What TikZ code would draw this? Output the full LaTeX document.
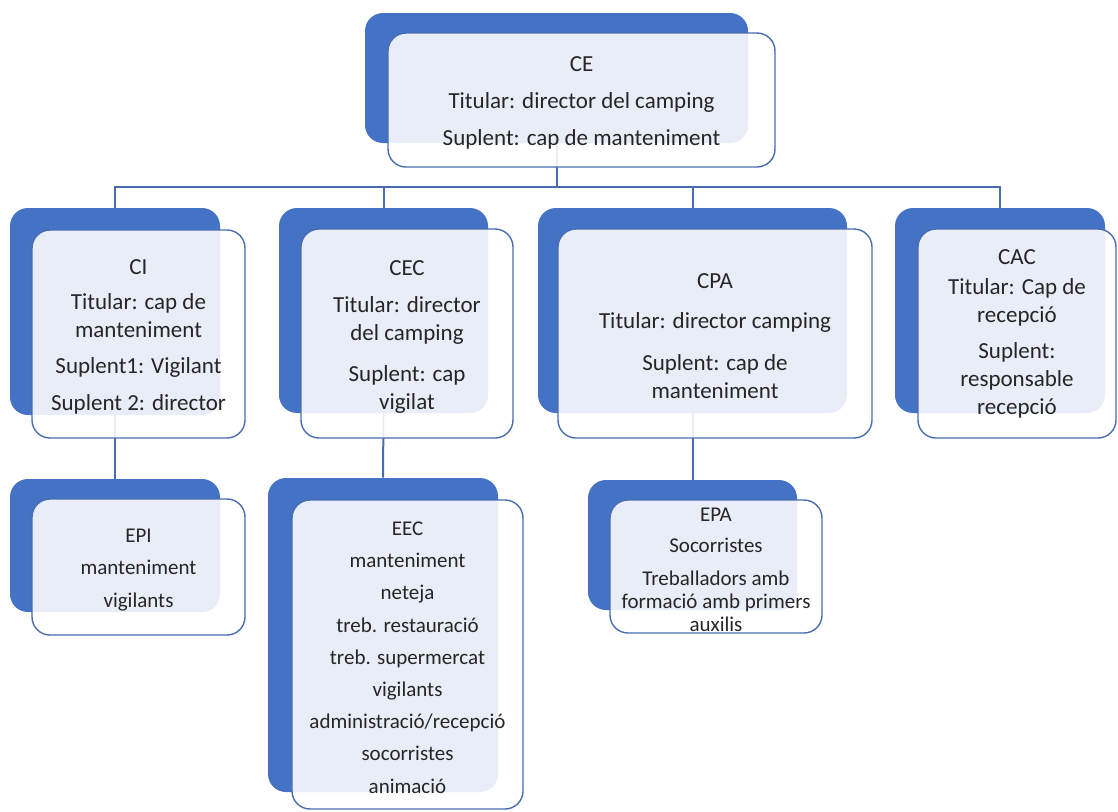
\documentclass[tikz,border=0pt]{standalone}
\usepackage{fontspec}
\setmainfont{Carlito}
\usetikzlibrary{fit}
\definecolor{boxblue}{HTML}{4472C4}
\definecolor{edgeblue}{HTML}{4A6DB0}
\definecolor{textgray}{HTML}{262626}
\tikzset{
  back/.style={fill=boxblue, rounded corners=9pt, inner sep=0pt},
  front/.style={draw=edgeblue, line width=0.7pt, fill=white, fill opacity=0.88,
    rounded corners=9pt, inner sep=0pt},
  link/.style={draw=edgeblue, line width=1pt},
  boxtext/.style={align=center, text=textgray, inner sep=0pt, yshift=-1.5pt},
  maintext/.style={boxtext, font=\fontsize{11.5}{14}\selectfont},
  subtext/.style={boxtext, font=\fontsize{10.5}{16.1}\selectfont},
  eparea/.style={boxtext, font=\fontsize{10.5}{11.5}\selectfont},
}
\begin{document}
\begin{tikzpicture}[x=0.5pt, y=-0.5pt]
  \useasboundingbox (0,0) rectangle (1118,811);

  % Back boxes
  \node[back, fit={(365,13) (748,143)}] (ce-b) {};
  \node[back, fit={(10,208) (220,415)}] (ci-b) {};
  \node[back, fit={(279,208) (488,413)}] (cec-b) {};
  \node[back, fit={(538,208) (847,413)}] (cpa-b) {};
  \node[back, fit={(895,208) (1105,413)}] (cac-b) {};
  \node[back, fit={(10,479) (220,612)}] (epi-b) {};
  \node[back, fit={(268,478) (498,792)}] (eec-b) {};
  \node[back, fit={(588,480) (797,610)}] (epa-b) {};

  % Connectors
  \coordinate (bus) at (556.5,187);
  \draw[link] (ce-b.south) -- (bus);
  \draw[link] (ci-b.north) |- (bus);
  \draw[link] (cec-b.north) |- (bus);
  \draw[link] (cpa-b.north) |- (bus);
  \draw[link] (cac-b.north) |- (bus);
  \draw[link] (ci-b.south) -- (epi-b.north);
  \draw[link] (cec-b.south) -- (eec-b.north);
  \draw[link] (cpa-b.south) -- (epa-b.north);

  % Front boxes
  \node[front, fit={(388,33) (775,167)}] (ce) {};
  \node[front, fit={(32,230) (245,438)}] (ci) {};
  \node[front, fit={(301,229) (513,438)}] (cec) {};
  \node[front, fit={(558,229) (872,438)}] (cpa) {};
  \node[front, fit={(918,229) (1116,438)}] (cac) {};
  \node[front, fit={(32,499) (245,635)}] (epi) {};
  \node[front, fit={(292,500) (523,809)}] (eec) {};
  \node[front, fit={(610,500) (822,633)}] (epa) {};

  % Texts
  \node[maintext] (ce-t) at (ce.center)
    {CE\\[4.5pt]Titular: director del camping\\[4.5pt]Suplent: cap de manteniment};
  \node[maintext] (ci-t) at (ci.center)
    {CI\\[3.5pt]Titular: cap de\\manteniment\\[4pt]Suplent1: Vigilant\\[4.5pt]Suplent 2: director};
  \node[maintext] (cec-t) at (cec.center)
    {CEC\\[4.5pt]Titular: director\\del camping\\[6.5pt]Suplent: cap\\vigilat};
  \node[maintext] (cpa-t) at (cpa.center)
    {CPA\\[6pt]Titular: director camping\\[7pt]Suplent: cap de\\manteniment};
  \node[maintext, yshift=1.5pt] (cac-t) at (cac.center)
    {CAC\\[1pt]Titular: Cap de\\recepció\\[4pt]Suplent:\\responsable\\recepció};
  \node[subtext] (epi-t) at (epi.center)
    {EPI\\manteniment\\vigilants};
  \node[subtext] (eec-t) at (eec.center)
    {EEC\\manteniment\\neteja\\treb. restauració\\treb. supermercat\\vigilants\\administració/recepció\\socorristes\\animació};
  \node[eparea] (epa-t) at (epa.center)
    {EPA\\[4pt]Socorristes\\[5pt]Treballadors amb\\formació amb primers\\auxilis};
\end{tikzpicture}
\end{document}
